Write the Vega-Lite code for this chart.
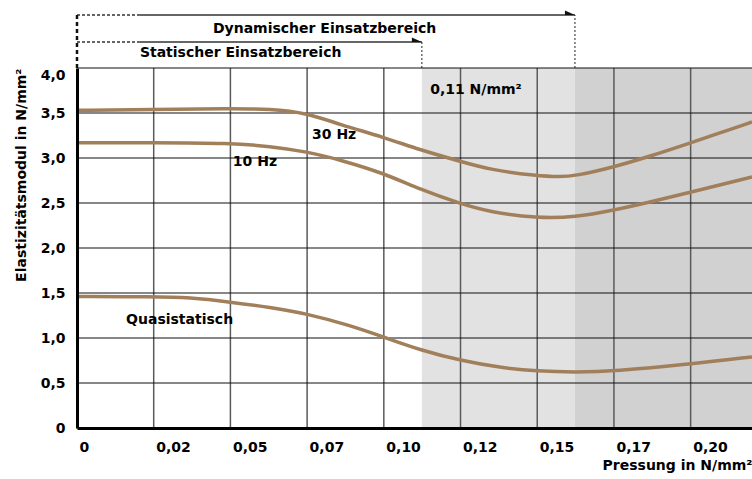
{
  "$schema": "https://vega.github.io/schema/vega-lite/v6.json",
  "width": 675,
  "height": 360,
  "autosize": {"type": "none"},
  "padding": {"left": 77, "top": 68, "right": 0, "bottom": 51},
  "background": "white",
  "config": {
    "view": {"stroke": null},
    "font": "DejaVu Sans",
    "text": {"font": "DejaVu Sans", "fontWeight": "bold", "fontSize": 14, "color": "#000"}
  },
  "layer": [
    {
      "data": {"values": [
        {"x": 0.1124, "x2": 0.1623, "zone": "light"},
        {"x": 0.1623, "x2": 0.22, "zone": "dark"}
      ]},
      "mark": {"type": "rect"},
      "encoding": {
        "x": {
          "field": "x", "type": "quantitative",
          "scale": {"domain": [0, 0.22], "nice": false, "zero": false},
          "axis": {
            "values": [0, 0.025, 0.05, 0.075, 0.1, 0.125, 0.15, 0.175, 0.2],
            "labelExpr": "datum.value == 0 ? '0' : replace(format(floor(datum.value * 100 + 1e-6) / 100, '.2f'), '.', ',')",
            "title": "Pressung in N/mm²",
            "grid": false, "ticks": false,
            "domainColor": "#000", "domainWidth": 3,
            "labelAlign": "left", "labelOffset": 2, "labelPadding": 12, "labelFlush": false,
            "labelBaseline": "top",
            "labelFont": "DejaVu Sans", "labelFontWeight": "bold", "labelFontSize": 14, "labelColor": "#000",
            "titleAnchor": "end", "titleFont": "DejaVu Sans", "titleFontSize": 14, "titleFontWeight": "bold", "titleColor": "#000",
            "titlePadding": 4,
            "zindex": 1
          }
        },
        "x2": {"field": "x2"},
        "color": {"field": "zone", "type": "nominal", "scale": {"domain": ["light", "dark"], "range": ["#e2e2e2", "#d1d1d1"]}, "legend": null}
      }
    },
    {
      "data": {"values": [
        {"x": 0.025}, {"x": 0.05}, {"x": 0.075}, {"x": 0.1}, {"x": 0.125}, {"x": 0.15}, {"x": 0.175}, {"x": 0.2}
      ]},
      "mark": {"type": "rule", "color": "#5a5a5a", "strokeWidth": 1.5},
      "encoding": {"x": {"field": "x", "type": "quantitative"}}
    },
    {
      "data": {"values": [
        {"y": 0.5}, {"y": 1.0}, {"y": 1.5}, {"y": 2.0}, {"y": 2.5}, {"y": 3.0}, {"y": 3.5}, {"y": 4.0}
      ]},
      "mark": {"type": "rule", "color": "#111", "strokeWidth": 1.2},
      "encoding": {
        "y": {
          "field": "y", "type": "quantitative",
          "scale": {"domain": [0, 4], "nice": false, "zero": false},
          "axis": {
            "values": [0, 0.5, 1, 1.5, 2, 2.5, 3, 3.5, 4],
            "labelExpr": "datum.value == 0 ? '0' : replace(format(datum.value, '.1f'), '.', ',')",
            "title": "Elastizitätsmodul in N/mm²",
            "grid": false, "ticks": false,
            "domainColor": "#000", "domainWidth": 3,
            "labelPadding": 12, "labelFlush": false,
            "labelBaseline": {"condition": {"test": "datum.value == 4", "value": "top"}, "value": "middle"},
            "labelFont": "DejaVu Sans", "labelFontWeight": "bold", "labelFontSize": 14, "labelColor": "#000",
            "titleAnchor": "end", "titleFont": "DejaVu Sans", "titleFontSize": 14, "titleFontWeight": "bold", "titleColor": "#000",
            "titlePadding": 12,
            "zindex": 1
          }
        }
      }
    },
    {
      "data": {"values": [
        {"series": "30 Hz", "x": 0, "y": 3.53},
        {"series": "30 Hz", "x": 0.025, "y": 3.54},
        {"series": "30 Hz", "x": 0.05, "y": 3.55},
        {"series": "30 Hz", "x": 0.0629, "y": 3.545},
        {"series": "30 Hz", "x": 0.075, "y": 3.5},
        {"series": "30 Hz", "x": 0.0857, "y": 3.37},
        {"series": "30 Hz", "x": 0.1001, "y": 3.23},
        {"series": "30 Hz", "x": 0.1118, "y": 3.09},
        {"series": "30 Hz", "x": 0.1252, "y": 2.96},
        {"series": "30 Hz", "x": 0.1346, "y": 2.87},
        {"series": "30 Hz", "x": 0.15, "y": 2.8},
        {"series": "30 Hz", "x": 0.1574, "y": 2.79},
        {"series": "30 Hz", "x": 0.1623, "y": 2.8},
        {"series": "30 Hz", "x": 0.175, "y": 2.9},
        {"series": "30 Hz", "x": 0.1868, "y": 3.02},
        {"series": "30 Hz", "x": 0.2001, "y": 3.17},
        {"series": "30 Hz", "x": 0.2096, "y": 3.28},
        {"series": "30 Hz", "x": 0.22, "y": 3.4},
        {"series": "10 Hz", "x": 0, "y": 3.17},
        {"series": "10 Hz", "x": 0.025, "y": 3.17},
        {"series": "10 Hz", "x": 0.05, "y": 3.165},
        {"series": "10 Hz", "x": 0.0629, "y": 3.13},
        {"series": "10 Hz", "x": 0.075, "y": 3.07},
        {"series": "10 Hz", "x": 0.0857, "y": 2.98},
        {"series": "10 Hz", "x": 0.1001, "y": 2.83},
        {"series": "10 Hz", "x": 0.1118, "y": 2.65},
        {"series": "10 Hz", "x": 0.1252, "y": 2.49},
        {"series": "10 Hz", "x": 0.1346, "y": 2.4},
        {"series": "10 Hz", "x": 0.15, "y": 2.33},
        {"series": "10 Hz", "x": 0.1623, "y": 2.34},
        {"series": "10 Hz", "x": 0.175, "y": 2.42},
        {"series": "10 Hz", "x": 0.1868, "y": 2.51},
        {"series": "10 Hz", "x": 0.2001, "y": 2.62},
        {"series": "10 Hz", "x": 0.22, "y": 2.79},
        {"series": "Quasistatisch", "x": 0, "y": 1.46},
        {"series": "Quasistatisch", "x": 0.0248, "y": 1.46},
        {"series": "Quasistatisch", "x": 0.0368, "y": 1.45},
        {"series": "Quasistatisch", "x": 0.0499, "y": 1.4},
        {"series": "Quasistatisch", "x": 0.063, "y": 1.34},
        {"series": "Quasistatisch", "x": 0.075, "y": 1.27},
        {"series": "Quasistatisch", "x": 0.089, "y": 1.14},
        {"series": "Quasistatisch", "x": 0.1, "y": 1.01},
        {"series": "Quasistatisch", "x": 0.1124, "y": 0.86},
        {"series": "Quasistatisch", "x": 0.125, "y": 0.75},
        {"series": "Quasistatisch", "x": 0.1379, "y": 0.67},
        {"series": "Quasistatisch", "x": 0.15, "y": 0.63},
        {"series": "Quasistatisch", "x": 0.1623, "y": 0.62},
        {"series": "Quasistatisch", "x": 0.175, "y": 0.63},
        {"series": "Quasistatisch", "x": 0.2, "y": 0.71},
        {"series": "Quasistatisch", "x": 0.22, "y": 0.79}
      ]},
      "mark": {"type": "line", "color": "#a27f5b", "strokeWidth": 3.5, "interpolate": "basis"},
      "encoding": {
        "x": {"field": "x", "type": "quantitative"},
        "y": {"field": "y", "type": "quantitative"},
        "detail": {"field": "series", "type": "nominal"}
      }
    },
    {
      "data": {"values": [
        {"label": "30 Hz", "x": 0.0766, "y": 3.256},
        {"label": "10 Hz", "x": 0.0508, "y": 2.956},
        {"label": "Quasistatisch", "x": 0.016, "y": 1.2},
        {"label": "0,11 N/mm²", "x": 0.1151, "y": 3.756},
        {"label": "Dynamischer Einsatzbereich", "x": 0.0443, "y": 4.433},
        {"label": "Statischer Einsatzbereich", "x": 0.0205, "y": 4.167}
      ]},
      "mark": {"type": "text", "align": "left", "baseline": "middle", "fontSize": 14, "fontWeight": "bold", "color": "#000"},
      "encoding": {
        "x": {"field": "x", "type": "quantitative"},
        "y": {"field": "y", "type": "quantitative"},
        "text": {"field": "label", "type": "nominal"}
      }
    },
    {
      "data": {"values": [
        {"x": 0.0205, "x2": 0.1623, "y": 4.589},
        {"x": 0.0205, "x2": 0.1124, "y": 4.289}
      ]},
      "mark": {"type": "rule", "color": "#333", "strokeWidth": 1.5},
      "encoding": {
        "x": {"field": "x", "type": "quantitative"},
        "x2": {"field": "x2"},
        "y": {"field": "y", "type": "quantitative"}
      }
    },
    {
      "data": {"values": [
        {"x": 0, "x2": 0.0205, "y": 4.589},
        {"x": 0, "x2": 0.0205, "y": 4.289}
      ]},
      "mark": {"type": "rule", "color": "#333", "strokeWidth": 1.5, "strokeDash": [3, 2]},
      "encoding": {
        "x": {"field": "x", "type": "quantitative"},
        "x2": {"field": "x2"},
        "y": {"field": "y", "type": "quantitative"}
      }
    },
    {
      "data": {"values": [
        {"x": 0, "y": 4, "y2": 4.6}
      ]},
      "mark": {"type": "rule", "color": "#111", "strokeWidth": 2.5, "strokeDash": [4, 3]},
      "encoding": {
        "x": {"field": "x", "type": "quantitative"},
        "y": {"field": "y", "type": "quantitative"},
        "y2": {"field": "y2"}
      }
    },
    {
      "data": {"values": [
        {"x": 0.1124, "y": 4, "y2": 4.289},
        {"x": 0.1623, "y": 4, "y2": 4.589}
      ]},
      "mark": {"type": "rule", "color": "#222", "strokeWidth": 1, "strokeDash": [2, 2]},
      "encoding": {
        "x": {"field": "x", "type": "quantitative"},
        "y": {"field": "y", "type": "quantitative"},
        "y2": {"field": "y2"}
      }
    },
    {
      "data": {"values": [
        {"x": 0.1623, "y": 4.589},
        {"x": 0.1124, "y": 4.289}
      ]},
      "mark": {"type": "point", "shape": "M0,0 L-2,-0.9 L-2,0 Z", "size": 100, "filled": true, "color": "#111", "opacity": 1, "strokeWidth": 0},
      "encoding": {
        "x": {"field": "x", "type": "quantitative"},
        "y": {"field": "y", "type": "quantitative"}
      }
    }
  ]
}
